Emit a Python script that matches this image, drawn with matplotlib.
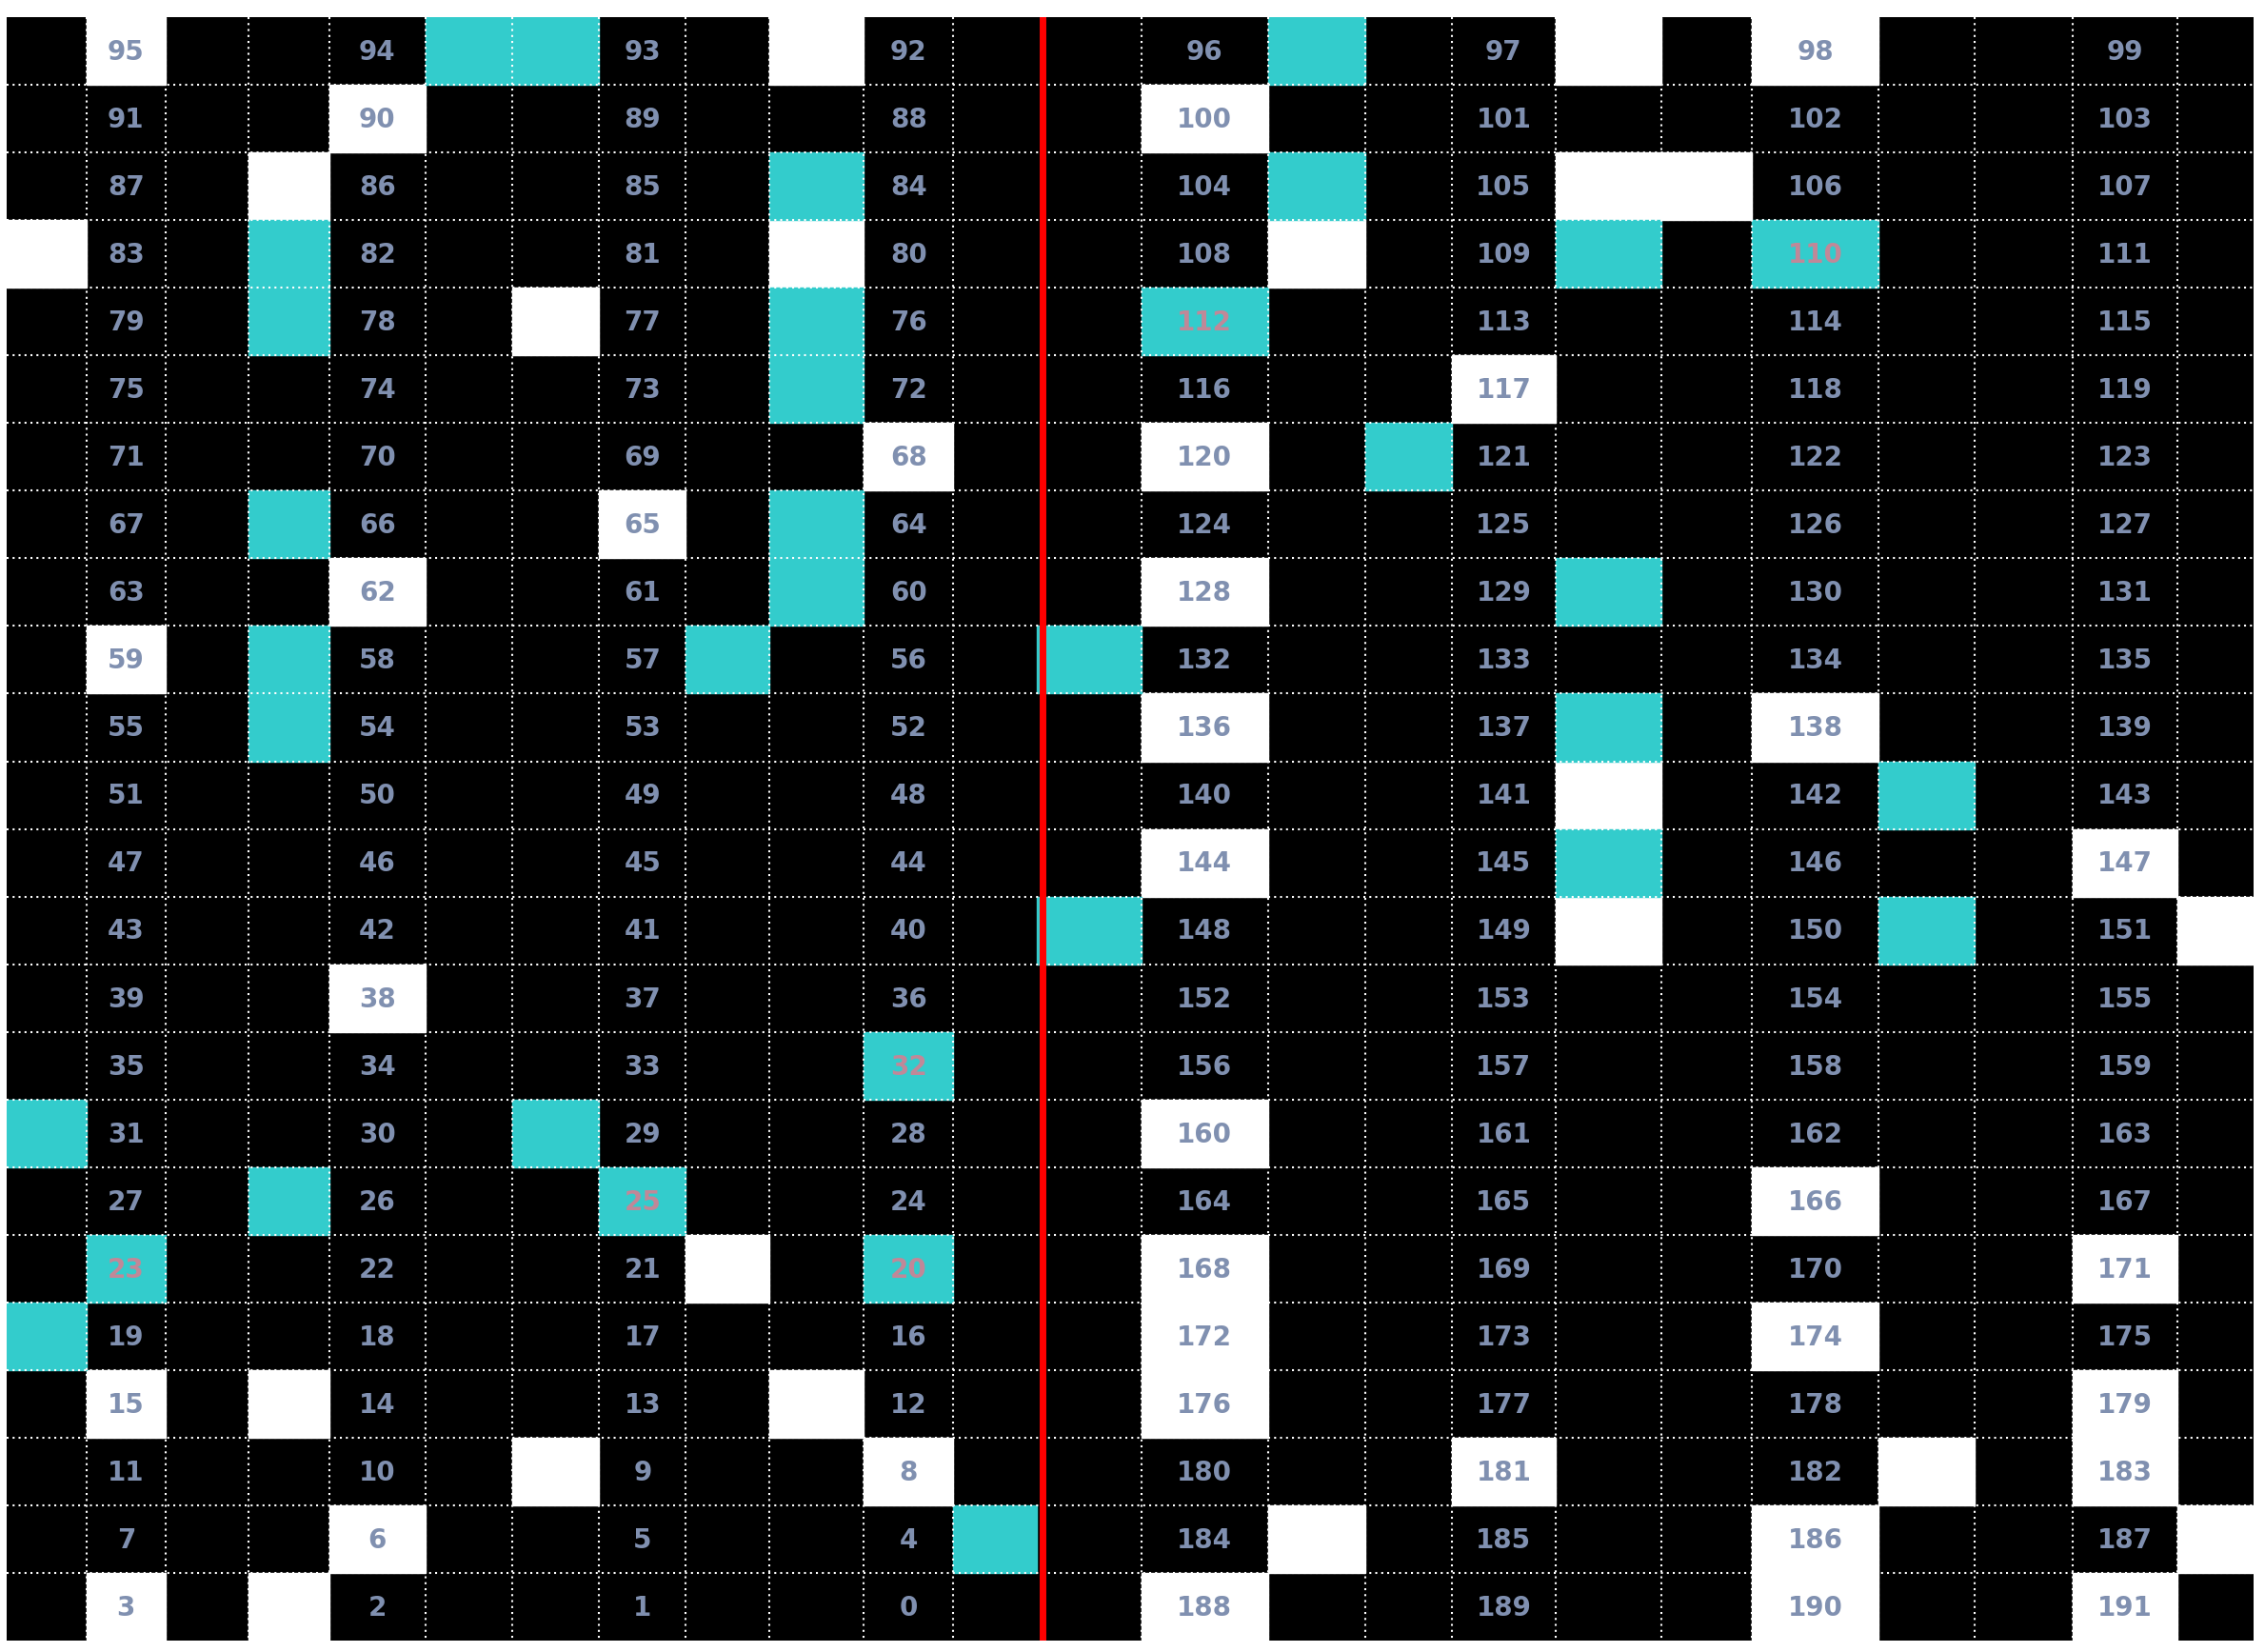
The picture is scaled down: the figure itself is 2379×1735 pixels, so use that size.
import matplotlib
matplotlib.use("Agg")
import matplotlib.pyplot as plt
from matplotlib.patches import Rectangle

n_rows = 24
# column numbering: 0..11 left half, 12..23 right half; number columns:
num_cols_left = [1, 4, 7, 10]
num_cols_right = [13, 16, 19, 22]
# (row from top, column) highlighted cells
white_cells = [(0,1),(0,9),(0,17),(0,19),(1,4),(1,13),(2,3),(2,17),(2,18),(3,0),(3,9),(3,14),
               (4,6),(5,16),(6,10),(6,13),(7,7),(8,4),(8,13),(9,1),(10,13),(10,19),(11,17),
               (12,13),(12,22),(13,17),(13,23),(14,4),(16,13),(17,19),(18,8),(18,13),(18,22),
               (19,13),(19,19),(20,1),(20,3),(20,9),(20,13),(20,22),(21,6),(21,10),(21,16),
               (21,20),(21,22),(22,4),(22,14),(22,19),(22,23),(23,1),(23,3),(23,13),(23,19),(23,22)]
teal_cells = [(0,5),(0,6),(0,14),(2,9),(2,14),(3,3),(3,17),(3,19),(4,3),(4,9),(4,13),(5,9),
              (6,15),(7,3),(7,9),(8,9),(8,17),(9,3),(9,8),(9,12),(10,3),(10,17),(11,20),
              (12,17),(13,12),(13,20),(15,10),(16,0),(16,6),(17,3),(17,7),(18,1),(18,10),
              (19,0),(22,11)]

edges = [5,60,115,172,228,295,355,415,475,533,598,660,718,790,878,945,1005,1077,1150,1213,1300,1367,1435,1507,1560]

fig = plt.figure(figsize=(23.79, 17.35), dpi=100)
ax = fig.add_axes([0.003, 0.007, 0.992, 0.9825])
ax.set_xlim(edges[0], edges[-1]); ax.set_ylim(n_rows, 0)
ax.axis('off')
ax.add_patch(Rectangle((edges[0], 0), edges[-1]-edges[0], n_rows, color='black', zorder=0))

wset, tset = set(white_cells), set(teal_cells)
for (r, c) in white_cells:
    ax.add_patch(Rectangle((edges[c], r), edges[c+1]-edges[c], 1, color='white', zorder=1))
for (r, c) in teal_cells:
    ax.add_patch(Rectangle((edges[c], r), edges[c+1]-edges[c], 1, color='#33CCCC', zorder=1))

for r in range(1, n_rows):
    ax.plot([edges[0], edges[-1]], [r, r], color='white', lw=1.5, ls=(0, (1, 2)), zorder=2)
for c in range(1, len(edges)-1):
    if c == 12:
        continue
    ax.plot([edges[c], edges[c]], [0, n_rows], color='white', lw=1.5, ls=(0, (1, 2)), zorder=2)
ax.plot([722, 722], [0, n_rows], color='#FF0000', lw=5, zorder=3)

for r in range(n_rows):
    for k in range(4):
        for c, val in ((num_cols_left[k], 4*(23-r)+(3-k)), (num_cols_right[k], 96+4*r+k)):
            col = '#C08898' if (r, c) in tset else '#8090B0'
            ax.text((edges[c]+edges[c+1])/2, r+0.52, str(val), ha='center', va='center',
                    fontsize=20, fontweight='bold', color=col, zorder=4)

fig.savefig('out.png', dpi=100)
